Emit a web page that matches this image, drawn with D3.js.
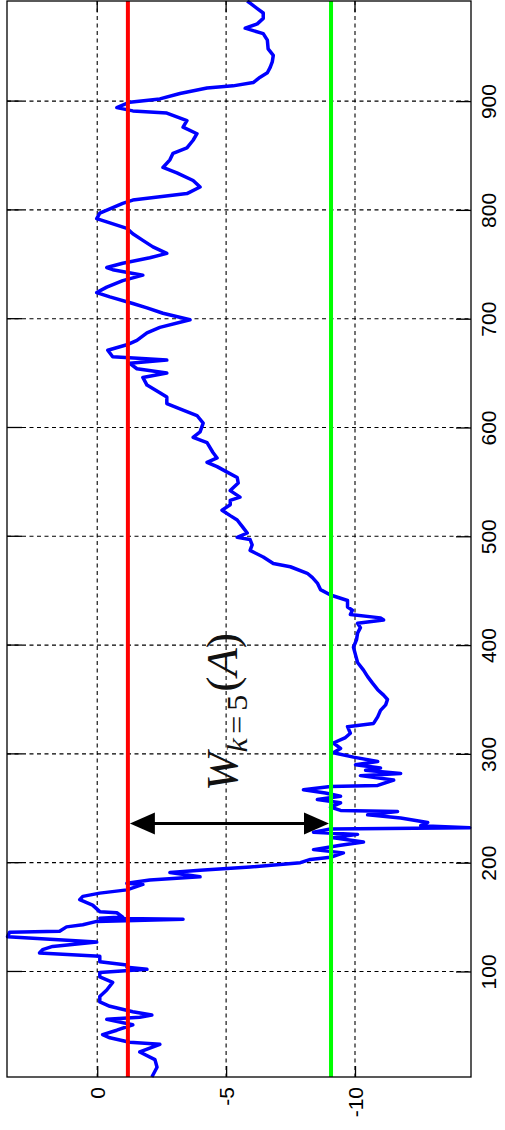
<!DOCTYPE html>
<html>
<head>
<meta charset="utf-8">
<script src="https://cdn.jsdelivr.net/npm/d3@7"></script>
<style>
body { margin: 0; background: #fff; }
svg { display: block; }
</style>
</head>
<body>
<svg id="chart" width="505" height="1130"></svg>
<script>
// sample index (time) and walk value
var sampleT = [3,12,19,26,33,35,39,42,46,51,56,58,60,63,68,72,77,83,90,95,99,102,104,106,109,114,117,120,123,127,132,136,137,141,143,146,148,149,150,154,155,161,166,169,172,175,180,181,184,187,191,193,196,200,203,205,209,212,216,219,223,226,228,231,232,234,237,241,244,247,248,251,255,258,261,264,267,270,271,276,280,282,285,287,290,293,297,301,305,310,315,319,325,328,334,340,345,350,354,359,365,371,377,384,391,398,405,411,416,420,423,425,428,432,435,441,446,451,457,462,466,472,475,481,487,492,497,499,503,508,515,519,524,529,533,536,542,549,554,559,564,568,572,577,586,591,596,604,611,616,622,628,632,639,646,650,654,659,662,665,671,676,680,687,692,699,705,710,714,720,724,729,735,740,745,747,751,756,760,766,772,778,783,788,792,797,801,806,809,815,821,827,834,839,846,852,857,864,870,876,882,889,891,894,899,902,907,912,914,917,922,926,931,936,942,948,956,962,967,971,976,981,985,990,992];
var sampleV = [-2.12,-2.32,-2.24,-1.65,-2.43,-1.26,-0.49,-0.21,-0.76,-1.38,-0.37,-1.65,-2.12,-1.38,-0.49,-0.10,-0.10,-0.37,-0.60,-0.10,-0.10,-1.93,-1.15,-1.15,-0.10,-0.10,2.24,2.12,1.73,0.02,3.48,3.40,1.46,1.19,0.56,0.02,-3.33,-0.10,-0.99,-0.76,-0.10,0.18,0.68,0.56,-0.10,-1.15,-1.77,-1.15,-2.04,-3.99,-2.82,-3.99,-5.93,-7.88,-8.27,-9.05,-9.55,-8.39,-9.44,-10.33,-9.16,-10.10,-8.39,-9.05,-14.45,-12.55,-12.82,-11.77,-10.49,-11.65,-9.44,-9.05,-9.44,-8.54,-9.44,-8.85,-8.00,-9.05,-10.88,-11.50,-10.21,-11.77,-10.41,-10.99,-10.02,-10.88,-9.94,-9.16,-9.44,-9.16,-9.63,-9.82,-9.71,-10.72,-10.88,-10.99,-11.19,-11.26,-11.11,-10.88,-10.68,-10.49,-10.33,-10.10,-10.02,-9.94,-10.06,-10.10,-10.21,-10.10,-11.11,-10.99,-9.82,-9.90,-9.71,-9.71,-9.05,-8.66,-8.54,-8.35,-8.15,-7.49,-6.83,-6.44,-5.93,-6.01,-5.93,-5.43,-5.82,-5.66,-5.43,-5.16,-4.84,-5.16,-5.16,-5.54,-5.16,-5.47,-5.43,-5.04,-4.65,-4.26,-4.65,-4.49,-4.26,-3.72,-3.99,-4.11,-3.87,-3.33,-2.70,-2.70,-2.43,-1.93,-1.77,-2.70,-1.54,-1.26,-2.70,-0.60,-0.41,-1.15,-1.54,-1.93,-2.43,-3.60,-2.55,-1.93,-1.38,-0.49,0.02,-0.37,-0.99,-1.77,-0.60,-0.37,-0.99,-2.04,-2.70,-2.16,-1.77,-1.38,-1.15,-0.49,0.02,-0.10,-0.49,-0.99,-1.38,-3.48,-3.99,-3.72,-3.09,-2.55,-2.82,-2.94,-3.48,-3.72,-3.87,-3.33,-3.48,-2.70,-1.38,-0.76,-1.26,-2.43,-3.21,-4.26,-5.27,-6.05,-6.32,-6.60,-6.71,-6.79,-6.83,-6.63,-6.60,-6.44,-5.74,-6.21,-6.44,-6.44,-6.21,-5.93,-5.82];

var tTicks = [100, 200, 300, 400, 500, 600, 700, 800, 900];
var vTicks = [0, -5, -10];

var upperLevel = -1.19;   // red line
var lowerLevel = -9.07;   // green line
var arrowT = 236;         // where the width arrow sits

var box = { left: 7, right: 471, top: 1, bottom: 1077 };

var svg = d3.select("#chart");

// the plot is turned a quarter turn: time runs up, value runs left
var tY = d3.scaleLinear().domain([3, 992]).range([box.bottom, box.top]);
var vX = d3.scaleLinear().domain([3.5, -14.5]).range([box.left, box.right]);

var walk = sampleT.map(function (t, i) { return { t: t, v: sampleV[i] }; });

// grid
var grid = svg.append("g")
    .attr("stroke", "#000")
    .attr("stroke-width", 1.1)
    .attr("stroke-dasharray", "4,3.5");

grid.selectAll(".gt")
    .data(tTicks)
    .enter()
    .append("line")
    .attr("x1", box.left)
    .attr("x2", box.right)
    .attr("y1", function (d) { return tY(d); })
    .attr("y2", function (d) { return tY(d); });

grid.selectAll(".gv")
    .data(vTicks)
    .enter()
    .append("line")
    .attr("y1", box.top)
    .attr("y2", box.bottom)
    .attr("x1", function (d) { return vX(d); })
    .attr("x2", function (d) { return vX(d); });

// blue walk
var line = d3.line()
    .x(function (d) { return vX(d.v); })
    .y(function (d) { return tY(d.t); });

svg.append("path")
    .datum(walk)
    .attr("fill", "none")
    .attr("stroke", "#0000ff")
    .attr("stroke-width", 3.5)
    .attr("stroke-linejoin", "round")
    .attr("d", line);

// level lines
svg.append("line")
    .attr("x1", vX(upperLevel)).attr("x2", vX(upperLevel))
    .attr("y1", box.top).attr("y2", box.bottom)
    .attr("stroke", "#ff0000")
    .attr("stroke-width", 4);

svg.append("line")
    .attr("x1", vX(lowerLevel)).attr("x2", vX(lowerLevel))
    .attr("y1", box.top).attr("y2", box.bottom)
    .attr("stroke", "#00ff00")
    .attr("stroke-width", 4);

// box
svg.append("rect")
    .attr("x", box.left)
    .attr("y", box.top)
    .attr("width", box.right - box.left)
    .attr("height", box.bottom - box.top)
    .attr("fill", "none")
    .attr("stroke", "#000")
    .attr("stroke-width", 1.3);

// right axis (time), ticks pointing in
var tAxis = svg.append("g")
    .attr("transform", "translate(" + box.right + ",0)")
    .call(d3.axisRight(tY).tickValues(tTicks).tickSize(-15).tickSizeOuter(0)
        .tickFormat(function (d) { return String(d); }));

// bottom axis (value)
var vAxis = svg.append("g")
    .attr("transform", "translate(0," + box.bottom + ")")
    .call(d3.axisBottom(vX).tickValues(vTicks).tickSize(-11).tickSizeOuter(0)
        .tickFormat(function (d) { return String(d); }));

[tAxis, vAxis].forEach(function (a) {
    a.select(".domain").remove();
    a.selectAll(".tick line").attr("stroke", "#000").attr("stroke-width", 1.3);
    a.selectAll("text")
        .attr("fill", "#000")
        .attr("font-family", "Liberation Sans, Arial, sans-serif")
        .attr("font-size", 21);
});

tAxis.selectAll("text")
    .attr("x", null).attr("dy", null)
    .attr("text-anchor", "middle")
    .attr("transform", "translate(25,0) rotate(-90)");

vAxis.selectAll("text")
    .attr("y", null).attr("dy", "0.36em")
    .attr("text-anchor", "end")
    .attr("transform", "translate(0,10) rotate(-90)");

// mirrored ticks on left and top
svg.append("g").selectAll("line")
    .data(tTicks)
    .enter()
    .append("line")
    .attr("x1", box.left).attr("x2", box.left + 15)
    .attr("y1", function (d) { return tY(d); })
    .attr("y2", function (d) { return tY(d); })
    .attr("stroke", "#000").attr("stroke-width", 1.3);

svg.append("g").selectAll("line")
    .data(vTicks)
    .enter()
    .append("line")
    .attr("y1", box.top).attr("y2", box.top + 11)
    .attr("x1", function (d) { return vX(d); })
    .attr("x2", function (d) { return vX(d); })
    .attr("stroke", "#000").attr("stroke-width", 1.3);

// double arrow between the two levels
var ay = tY(arrowT);
var xa = vX(upperLevel) + 2, xb = vX(lowerLevel) - 2;
var headL = 25, headW = 11;

svg.append("line")
    .attr("x1", xa + headL - 2).attr("x2", xb - headL + 2)
    .attr("y1", ay).attr("y2", ay)
    .attr("stroke", "#000").attr("stroke-width", 3);

svg.append("path")
    .attr("d", "M" + xa + "," + ay + "L" + (xa + headL) + "," + (ay - headW) + "L" + (xa + headL) + "," + (ay + headW) + "Z")
    .attr("fill", "#000");

svg.append("path")
    .attr("d", "M" + xb + "," + ay + "L" + (xb - headL) + "," + (ay - headW) + "L" + (xb - headL) + "," + (ay + headW) + "Z")
    .attr("fill", "#000");

// W_{k=5}(A) label, running upwards
var label = svg.append("text")
    .attr("font-family", "Liberation Serif, Times New Roman, serif")
    .attr("font-size", 30)
    .attr("fill", "#111");

label.append("tspan").attr("font-style", "italic").text("W");
label.append("tspan").attr("font-style", "italic").attr("font-size", 21).attr("dy", 7).text("k");
label.append("tspan").attr("font-size", 21).attr("dx", 3).text("=");
label.append("tspan").attr("font-size", 21).attr("dx", 3).text("5");
label.append("tspan").attr("dy", -7).attr("dx", 2).text("(");
label.append("tspan").attr("font-style", "italic").text("A");
label.append("tspan").text(")");

var len = label.node().getComputedTextLength();
var sx = 146 / len;
label.attr("transform", "translate(237,791) rotate(-90) scale(" + sx + ",1.45)");
</script>
</body>
</html>
